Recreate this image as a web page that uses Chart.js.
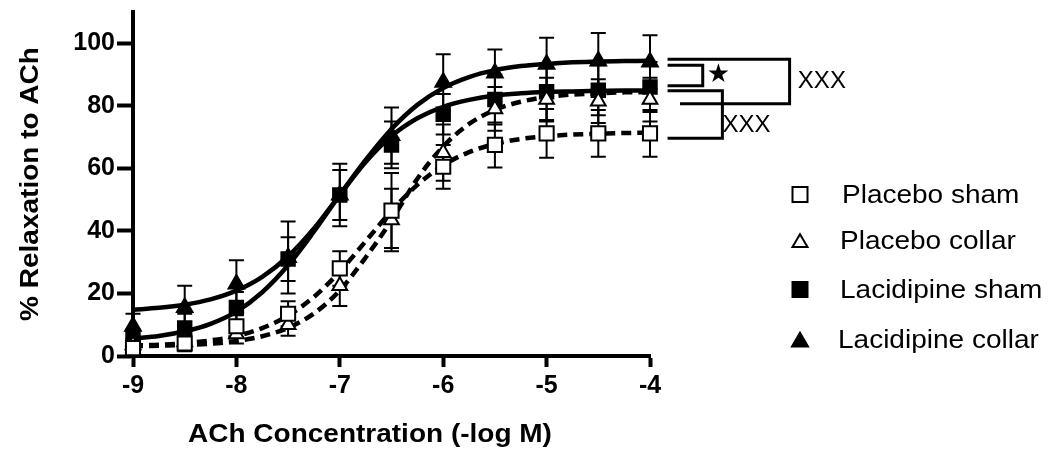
<!DOCTYPE html>
<html><head><meta charset="utf-8">
<script src="https://cdn.jsdelivr.net/npm/chart.js@4.4.1/dist/chart.umd.min.js"></script>
<style>html,body{margin:0;padding:0;background:#fff}#wrap{width:1050px;height:453px;position:relative}</style>
</head><body><div id="wrap"><canvas id="c"></canvas></div>
<script>
// ---- data ----
const seriesNames = ['Placebo sham', 'Placebo collar', 'Lacidipine sham', 'Lacidipine collar'];
const logConc = [-9, -8.5, -8, -7.5, -7, -6.5, -6, -5.5, -5, -4.5, -4];

const placeboSham      = [2.5, 4, 9.5, 13.5, 28, 46.5, 60.5, 67.5, 71.2, 71.2, 71.2];
const placeboShamSem   = [2, 2.5, 3.5, 4, 5.5, 12, 7, 7.2, 7.8, 7.5, 7.5];
const placeboCollar    = [3.5, 4.5, 7, 10, 22.5, 43.5, 65, 79, 82, 81.5, 82];
const placeboCollarSem = [2, 2, 3, 3.5, 6.5, 10, 9, 7, 7, 7, 7];
const lacShamVals      = [5.5, 9, 15.5, 31, 51.5, 67.5, 77.3, 82, 84.5, 85, 86];
const lacShamSem       = [3, 4.5, 5, 7, 8, 7.5, 6.5, 8, 9, 8, 8];
const lacCollarVals    = [9.5, 15.5, 23, 31.5, 51.5, 70.5, 87.5, 90.5, 93.3, 94.3, 94];
const lacCollarSem     = [4, 7, 7.6, 11.5, 10, 9, 9, 7.5, 8.5, 9, 8.6];

// fitted curves
const curveX = [-9, -8.75, -8.5, -8.25, -8, -7.75, -7.5, -7.25, -7, -6.75, -6.5, -6.25, -6, -5.75, -5.5, -5.25, -5, -4.75, -4.5, -4.25, -4];
const curvePlaceboSham   = [3.4, 3.6, 4.1, 5.0, 6.4, 8.9, 12.9, 18.9, 27.0, 36.7, 46.4, 54.7, 61.0, 65.2, 67.8, 69.4, 70.3, 70.8, 71.1, 71.3, 71.4];
const curvePlaceboCollar = [3.1, 3.3, 3.5, 3.9, 4.8, 6.3, 9.0, 13.6, 21.0, 31.5, 43.4, 56.7, 67.0, 74.2, 78.7, 81.3, 82.8, 83.6, 84.0, 84.3, 84.4];
const curveLacSham       = [5.6, 6.4, 7.9, 10.3, 14.2, 20.4, 29.0, 39.8, 51.4, 62.0, 70.3, 76.0, 79.7, 81.9, 83.3, 84.0, 84.4, 84.6, 84.8, 84.9, 84.9];
const curveLacCollar     = [14.8, 15.4, 16.4, 18.1, 20.9, 25.3, 31.9, 40.8, 51.6, 62.7, 72.6, 80.3, 85.7, 89.2, 91.4, 92.7, 93.4, 93.9, 94.2, 94.3, 94.4];

const xTicks = [-9, -8, -7, -6, -5, -4];
const yTicks = [0, 20, 40, 60, 80, 100];
const xTitle = 'ACh Concentration (-log M)';
const yTitle = '% Relaxation to ACh';

// significance brackets (data units)
const bracketTop    = [94.9, 93.0, 84.8];
const bracketBottom = [80.7, 86.4, 69.6];
const bracketLabels = ['XXX', '\u2605', 'XXX'];

// ---- build ----
const pts = (ys) => logConc.map((x, i) => ({x, y: ys[i]}));
const crv = (ys) => curveX.map((x, i) => ({x, y: ys[i]}));

const pointDs = (label, ys, sem, style, filled, r) => ({
  label, data: pts(ys), sem, showLine: false, order: 0, clip: false,
  pointStyle: style, pointRadius: r, pointHoverRadius: r,
  backgroundColor: filled ? '#000' : '#fff', borderColor: '#000', pointBorderWidth: 2
});
const curveDs = (ys, dashed) => ({
  label: '', data: crv(ys), showLine: true, order: 1, clip: false,
  pointRadius: 0, borderColor: '#000', borderWidth: 4.5,
  borderDash: dashed ? [10, 6] : [], cubicInterpolationMode: 'monotone', fill: false, isCurve: true
});

const datasets = [
  pointDs(seriesNames[0], placeboSham, placeboShamSem, 'rect', false, 10),
  pointDs(seriesNames[1], placeboCollar, placeboCollarSem, 'triangle', false, 8.5),
  pointDs(seriesNames[2], lacShamVals, lacShamSem, 'rect', true, 9.5),
  pointDs(seriesNames[3], lacCollarVals, lacCollarSem, 'triangle', true, 9),
  curveDs(curvePlaceboSham, true),
  curveDs(curvePlaceboCollar, true),
  curveDs(curveLacSham, false),
  curveDs(curveLacCollar, false)
];

function stretchText(ctx, txt, x, y, font, sx, align, rot) {
  ctx.save(); ctx.font = font; ctx.fillStyle = '#000';
  ctx.translate(x, y); if (rot) ctx.rotate(rot); ctx.scale(sx, 1);
  ctx.textAlign = align || 'left'; ctx.textBaseline = 'alphabetic';
  ctx.fillText(txt, 0, 0); ctx.restore();
}
function marker(ctx, style, filled, cx, cy, s) {
  ctx.save(); ctx.lineWidth = 2; ctx.strokeStyle = '#000'; ctx.fillStyle = filled ? '#000' : '#fff';
  ctx.beginPath();
  if (style === 'rect') { ctx.rect(cx - s / 2, cy - s / 2, s, s); }
  else { ctx.moveTo(cx, cy - s * 0.45); ctx.lineTo(cx + s / 2, cy + s * 0.4); ctx.lineTo(cx - s / 2, cy + s * 0.4); ctx.closePath(); }
  ctx.fill(); ctx.stroke(); ctx.restore();
}

const errorBars = {
  id: 'errorBars',
  beforeDatasetsDraw(chart) {
    const {ctx, scales: {x, y}} = chart;
    ctx.save(); ctx.strokeStyle = '#000'; ctx.lineWidth = 2;
    chart.data.datasets.forEach(ds => {
      if (!ds.sem) return;
      ds.data.forEach((p, j) => {
        const px = x.getPixelForValue(p.x), e = ds.sem[j];
        const y1 = y.getPixelForValue(p.y + e), y2 = y.getPixelForValue(Math.max(0, p.y - e));
        ctx.beginPath();
        ctx.moveTo(px, y1); ctx.lineTo(px, y2);
        ctx.moveTo(px - 7.5, y1); ctx.lineTo(px + 7.5, y1);
        ctx.moveTo(px - 7.5, y2); ctx.lineTo(px + 7.5, y2);
        ctx.stroke();
      });
    });
    ctx.restore();
  }
};

const extras = {
  id: 'extras',
  afterDraw(chart) {
    const {ctx, scales: {x, y}, chartArea: ca} = chart;
    // axis titles
    stretchText(ctx, xTitle, 188, 442, 'bold 25px "Liberation Sans", Arial, sans-serif', 1.12, 'left');
    stretchText(ctx, yTitle, 38, (ca.top + ca.bottom) / 2, 'bold 25px "Liberation Sans", Arial, sans-serif', 1.12, 'center', -Math.PI / 2);
    // legend
    const styles = [['rect', false, 15], ['triangle', false, 15], ['rect', true, 15], ['triangle', true, 16]];
    const rowsY = [194.5, 241, 289.5, 340];
    const baseY = [203, 249, 298, 348];
    const textX = [842, 840, 840, 838];
    seriesNames.forEach((n, i) => {
      marker(ctx, styles[i][0], styles[i][1], 800, rowsY[i], styles[i][2]);
      stretchText(ctx, n, textX[i], baseY[i], '25px "Liberation Sans", Arial, sans-serif', 1.12, 'left');
    });
    // brackets
    const X = v => x.getPixelForValue(v), Y = v => y.getPixelForValue(v);
    ctx.save(); ctx.strokeStyle = '#000'; ctx.lineWidth = 3; ctx.lineJoin = 'miter';
    ctx.beginPath();
    ctx.moveTo(X(-3.83), Y(bracketTop[0])); ctx.lineTo(X(-2.65), Y(bracketTop[0]));
    ctx.lineTo(X(-2.65), Y(bracketBottom[0])); ctx.lineTo(X(-3.71), Y(bracketBottom[0]));
    ctx.stroke();
    ctx.beginPath();
    ctx.moveTo(X(-3.83), Y(bracketTop[1])); ctx.lineTo(X(-3.49), Y(bracketTop[1]));
    ctx.lineTo(X(-3.49), Y(bracketBottom[1])); ctx.lineTo(X(-3.83), Y(bracketBottom[1]));
    ctx.stroke();
    ctx.beginPath();
    ctx.moveTo(X(-3.83), Y(bracketTop[2])); ctx.lineTo(X(-3.30), Y(bracketTop[2]));
    ctx.lineTo(X(-3.30), Y(bracketBottom[2])); ctx.lineTo(X(-3.83), Y(bracketBottom[2]));
    ctx.stroke();
    ctx.restore();
    ctx.save(); ctx.fillStyle = '#000'; ctx.textBaseline = 'middle'; ctx.textAlign = 'left';
    ctx.font = '24px "Liberation Sans", Arial, sans-serif';
    ctx.fillText(bracketLabels[0], X(-2.57), Y((bracketTop[0] + bracketBottom[0]) / 2));
    ctx.fillText(bracketLabels[2], X(-3.30), Y(73.6));
    ctx.font = '26px "DejaVu Sans", sans-serif';
    ctx.fillText(bracketLabels[1], X(-3.45), Y((bracketTop[1] + bracketBottom[1]) / 2));
    ctx.restore();
  }
};

const tickFont = {family: '"Liberation Sans", Arial, sans-serif', size: 25, weight: 'bold'};

new Chart(document.getElementById('c'), {
  type: 'scatter',
  data: {datasets},
  options: {
    responsive: true, maintainAspectRatio: false, animation: false,
    layout: {padding: {left: 0, right: 400, top: 8, bottom: 0}},
    plugins: {legend: {display: false}, tooltip: {enabled: false}},
    scales: {
      x: {
        type: 'linear', min: -9, max: -4,
        afterBuildTicks: s => { s.ticks = xTicks.map(v => ({value: v})); },
        afterFit: s => { s.height = 97; s.paddingLeft = 0; s.paddingRight = 0; },
        ticks: {color: '#000', font: tickFont, padding: 4, maxRotation: 0, callback: v => String(v)},
        grid: {drawOnChartArea: false, drawTicks: true, tickLength: 11, tickWidth: 4, tickColor: '#000'},
        border: {display: true, width: 4, color: '#000'},
        title: {display: false}
      },
      y: {
        type: 'linear', min: 0, max: 110,
        afterBuildTicks: s => { s.ticks = yTicks.map(v => ({value: v})); },
        afterFit: s => { s.width = 133; s.paddingTop = 0; s.paddingBottom = 0; },
        ticks: {color: '#000', font: tickFont, padding: 2, callback: v => String(v)},
        grid: {drawOnChartArea: false, drawTicks: true, tickLength: 16, tickWidth: 4, tickColor: '#000'},
        border: {display: true, width: 4, color: '#000'},
        title: {display: false}
      }
    }
  },
  plugins: [errorBars, extras]
});
</script></body></html>
